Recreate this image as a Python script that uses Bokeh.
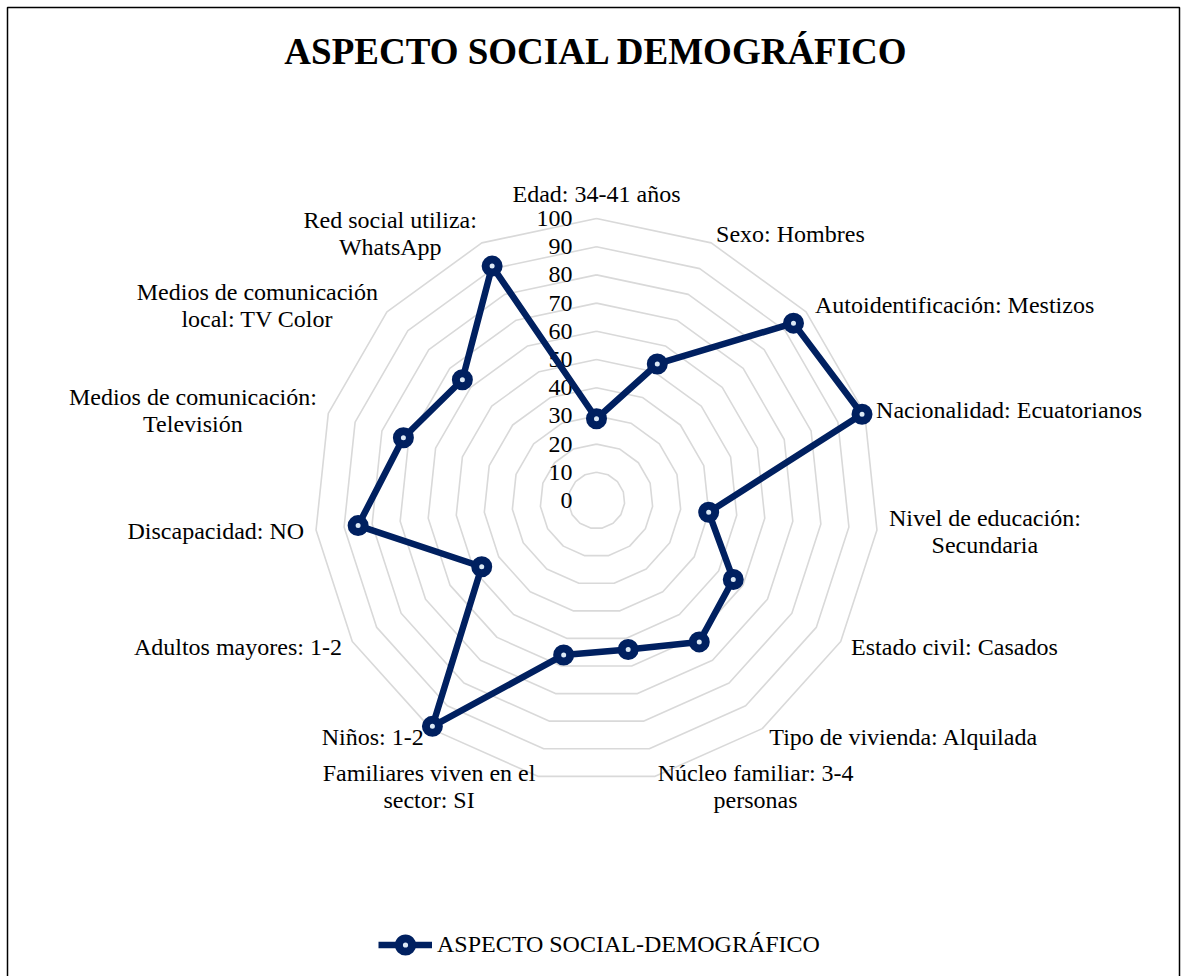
import math
import unicodedata
from bokeh.plotting import figure
from bokeh.models import Range1d, Legend, LegendItem, ColumnDataSource
from bokeh.core.properties import value
from bokeh.embed import file_html
from bokeh.resources import INLINE

# ---------------- data ----------------
chart_title = "ASPECTO SOCIAL DEMOGRÁFICO"
series_name = "ASPECTO SOCIAL-DEMOGRÁFICO"
categories = [
    "Edad: 34-41 años",
    "Sexo: Hombres",
    "Autoidentificación: Mestizos",
    "Nacionalidad: Ecuatorianos",
    "Nivel de educación:\nSecundaria",
    "Estado civil: Casados",
    "Tipo de vivienda: Alquilada",
    "Núcleo familiar: 3-4\npersonas",
    "Familiares viven en el\nsector: SI",
    "Niños: 1-2",
    "Adultos mayores: 1-2",
    "Discapacidad: NO",
    "Medios de comunicación:\nTelevisión",
    "Medios de comunicación\nlocal: TV Color",
    "Red social utiliza:\nWhatsApp",
]
values = [29, 53, 94, 99, 40, 56, 62, 54, 56, 99, 47, 85, 72, 64, 91]
ticks = [0, 10, 20, 30, 40, 50, 60, 70, 80, 90, 100]
r_max = 100

# ---------------- layout / style ----------------
W, H = 1181, 976
cx, cy = 596, 476          # centre of the radar (pixel-like data units)
R = 282                    # pixel radius for r_max
FONT = "Liberation Serif"
FS = 24
LINE_H = 27
NAVY = "#002060"
GRID = "#d9d9d9"

# Times-like advance widths (per 1000 em) to estimate text widths
_w = {' ': 250, ':': 278, '-': 333, '.': 250,
      'a': 444, 'b': 500, 'c': 444, 'd': 500, 'e': 444, 'f': 333, 'g': 500, 'h': 500,
      'i': 278, 'j': 278, 'k': 500, 'l': 278, 'm': 778, 'n': 500, 'o': 500, 'p': 500,
      'q': 500, 'r': 333, 's': 389, 't': 278, 'u': 500, 'v': 500, 'w': 722, 'x': 500,
      'y': 500, 'z': 444,
      'A': 722, 'B': 667, 'C': 667, 'D': 722, 'E': 611, 'F': 556, 'G': 722, 'H': 722,
      'I': 333, 'J': 389, 'K': 722, 'L': 611, 'M': 889, 'N': 722, 'O': 722, 'P': 556,
      'Q': 722, 'R': 667, 'S': 556, 'T': 611, 'U': 722, 'V': 722, 'W': 944, 'X': 722,
      'Y': 722, 'Z': 611}


def text_width(s):
    tot = 0
    for ch in s:
        if ch.isdigit():
            tot += 500
            continue
        base = unicodedata.normalize("NFD", ch)[0]
        tot += _w.get(base, 500)
    return tot / 1000.0 * FS


n = len(categories)
angles = [2 * math.pi * i / n for i in range(n)]


def polar(r, a):
    return cx + R * r / r_max * math.sin(a), cy + R * r / r_max * math.cos(a)


p = figure(width=W, height=H, output_backend="svg", toolbar_location=None,
           x_range=Range1d(0, W), y_range=Range1d(0, H),
           x_axis_type=None, y_axis_type=None,
           min_border=0, min_border_left=0, min_border_right=0,
           min_border_top=0, min_border_bottom=0)
p.outline_line_color = None
p.background_fill_color = "white"
p.border_fill_color = "white"

# chart border (left, top, right)
p.line(x=[7, 7, W - 2, W - 2], y=[0, H - 7, H - 7, 0],
       line_color="black", line_width=1.5)

# grid rings
ring_xs, ring_ys = [], []
for t in ticks[1:]:
    pts = [polar(t, a) for a in angles] + [polar(t, angles[0])]
    ring_xs.append([q[0] for q in pts])
    ring_ys.append([q[1] for q in pts])
p.multi_line(xs=ring_xs, ys=ring_ys, line_color=GRID, line_width=1.6)

# tick labels
tick_src = ColumnDataSource(dict(
    x=[cx - 24] * len(ticks),
    y=[polar(t, 0)[1] for t in ticks],
    text=[str(t) for t in ticks]))
p.text(x="x", y="y", text="text", source=tick_src,
       text_font=value(FONT), text_font_size=f"{FS}px", text_color="black",
       text_align="right", text_baseline="middle")

# category labels
groups = {"left": dict(x=[], y=[], text=[]),
          "right": dict(x=[], y=[], text=[]),
          "center": dict(x=[], y=[], text=[])}
for lab, a in zip(categories, angles):
    s, c = math.sin(a), math.cos(a)
    vx, vy = polar(r_max, a)
    if abs(s) < 0.1 and c > 0:
        ax, ay, align = vx, vy + 25, "center"
    else:
        ax, ay = vx + 12 * s, vy + 10 * c
        align = "left" if s > 0.1 else ("right" if s < -0.1 else "center")
    lines = lab.split("\n")
    k = len(lines)
    if k == 1:
        groups[align]["x"].append(ax)
        groups[align]["y"].append(ay)
        groups[align]["text"].append(lab)
    else:
        maxw = max(text_width(l) for l in lines)
        bx = ax + maxw / 2 if align == "left" else (ax - maxw / 2 if align == "right" else ax)
        for j, l in enumerate(lines):
            groups["center"]["x"].append(bx)
            groups["center"]["y"].append(ay + (k - 1) / 2 * LINE_H - j * LINE_H)
            groups["center"]["text"].append(l)

for align, d in groups.items():
    if d["x"]:
        p.text(x="x", y="y", text="text", source=ColumnDataSource(d),
               text_font=value(FONT), text_font_size=f"{FS}px", text_color="black",
               text_align=align, text_baseline="middle")

# series
pts = [polar(v, a) for v, a in zip(values, angles)]
sx = [q[0] for q in pts]
sy = [q[1] for q in pts]
line_r = p.line(x=sx + [sx[0]], y=sy + [sy[0]], line_color=NAVY, line_width=6.5,
                line_join="round")
mark_r = p.scatter(x=sx, y=sy, marker="circle", size=13, line_color=NAVY,
                   line_width=8, fill_color="#dce9f5")

# title
p.text(x=[cx], y=[H - 51], text=[chart_title], text_font=value(FONT),
       text_font_size="37px", text_font_style="bold", text_color="black",
       text_align="center", text_baseline="middle")

# legend
legend = Legend(items=[LegendItem(label=series_name, renderers=[line_r, mark_r])],
                location=(378, 15), orientation="horizontal",
                glyph_width=54, glyph_height=33, label_height=33,
                label_standoff=5, padding=0, margin=0, spacing=0,
                border_line_alpha=0, background_fill_alpha=0,
                label_text_font=FONT, label_text_font_size=f"{FS}px",
                label_text_color="black")
p.add_layout(legend, "center")

open("out.html", "w").write(file_html(p, INLINE))
